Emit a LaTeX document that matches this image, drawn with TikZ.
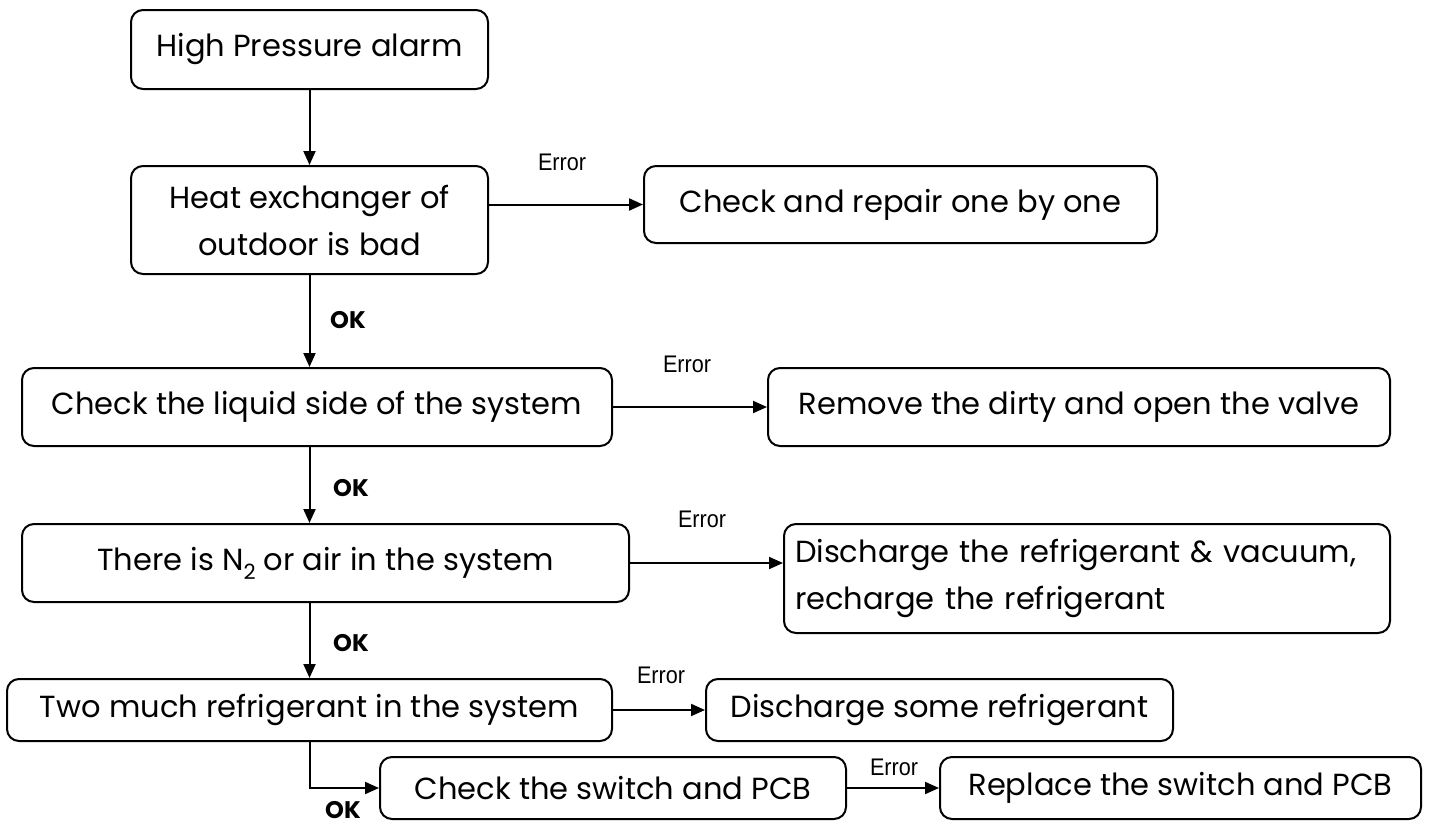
\documentclass[tikz,border=0pt]{standalone}
\usepackage{fontspec}
\setmainfont{Poppins}
\newfontfamily\lblfont{Liberation Sans}[FakeStretch=0.9]
\usetikzlibrary{arrows.meta}
\begin{document}
\begin{tikzpicture}[x=1pt,y=-1pt,
  box/.style={draw,line width=2pt,rounded corners=12pt,inner sep=0pt,align=center,
    font=\fontsize{30.5}{47}\selectfont},
  conn/.style={line width=2pt,-{Triangle[length=14pt,width=12pt]}},
  err/.style={font=\lblfont\fontsize{24}{24}\selectfont,inner sep=0pt},
  ok/.style={font=\bfseries\fontsize{24}{24}\selectfont,inner sep=0pt}]
\useasboundingbox (0,0) rectangle (1432,825);
\node[box,minimum width=357pt,minimum height=79pt] (n1) at (309.5,49.5) {High Pressure alarm};
\node[box,minimum width=357pt,minimum height=108pt] (n2) at (309.5,220) {Heat exchanger of\\outdoor is bad};
\node[box,minimum width=513pt,minimum height=77pt] (n3) at (900.5,204.5) {Check and repair one by one};
\node[box,minimum width=590pt,minimum height=78pt] (n4) at (317,407) {Check the liquid side of the system};
\node[box,minimum width=622pt,minimum height=78pt] (n5) at (1079,407) {Remove the dirty and open the valve};
\node[box,minimum width=607pt,minimum height=78pt] (n6) at (325.5,563) {There is N\raisebox{-0.3em}{\fontsize{21}{21}\selectfont 2} or air in the system};
\node[box,minimum width=606pt,minimum height=109pt,align=left,text width=584pt] (n7) at (1087,578.5) {\hyphenpenalty=10000 Discharge the refrigerant \& vacuum,\\recharge the refrigerant};
\node[box,minimum width=605pt,minimum height=62pt] (n8) at (309.5,710) {Two much refrigerant in the system};
\node[box,minimum width=467pt,minimum height=62pt] (n9) at (939.5,710) {Discharge some refrigerant};
\node[box,minimum width=466pt,minimum height=62pt] (n10) at (613,788) {Check the switch and PCB};
\node[box,minimum width=481pt,minimum height=62pt] (n11) at (1180.5,788) {Replace the switch and PCB};

\draw[conn] (n1.south) -- (n2.north);
\draw[conn] (n2.east |- n3) -- (n3.west);
\draw[conn] (n2.south) -- (n2.south |- n4.north);
\draw[conn] (n4.east) -- (n5.west);
\draw[conn] (n4.south -| n1) -- (n1 |- n6.north);
\draw[conn] (n6.east) -- (n6.east -| n7.west);
\draw[conn] (n6.south -| n1) -- (n1 |- n8.north);
\draw[conn] (n8.east) -- (n9.west);
\draw[conn] (n8.south -| n1) -- (n1 |- n10) -- (n10.west);
\draw[conn] (n10.east) -- (n11.west);

\node[err] (e1) at (562,162) {Error};
\node[err] (e2) at (687,364) {Error};
\node[err] (e3) at (702,519) {Error};
\node[err] (e4) at (661,675) {Error};
\node[err] (e5) at (894,767) {Error};
\node[ok] (o1) at (348,320) {OK};
\node[ok] (o2) at (351,488) {OK};
\node[ok] (o3) at (351,643) {OK};
\node[ok] (o4) at (343,810) {OK};
\end{tikzpicture}
\end{document}
